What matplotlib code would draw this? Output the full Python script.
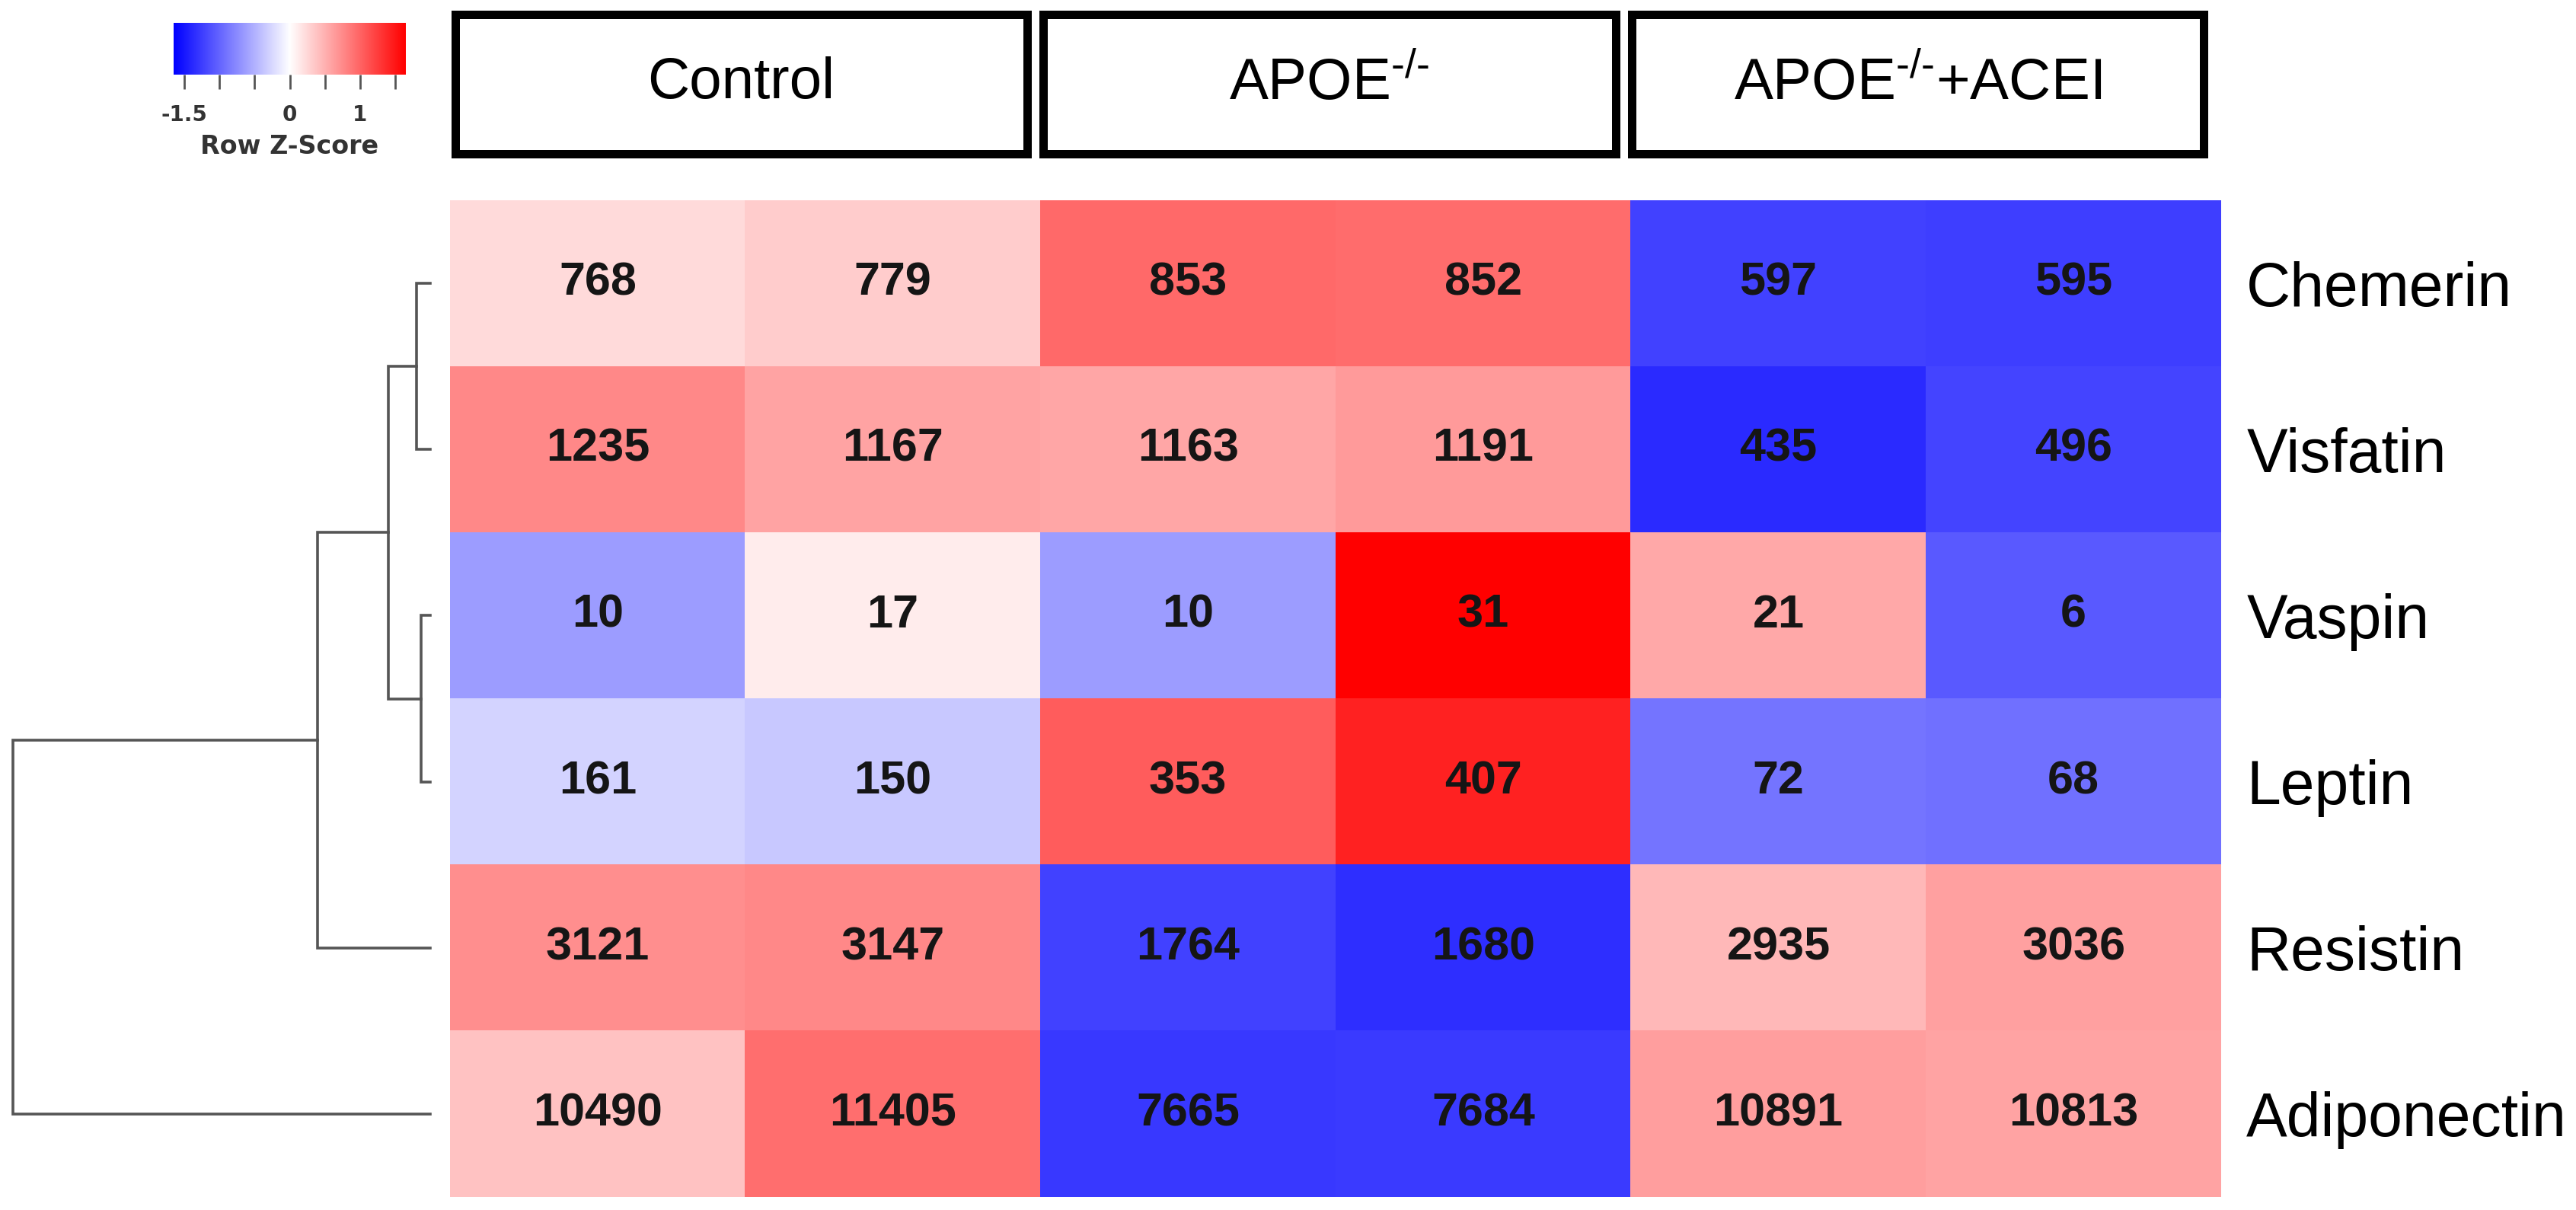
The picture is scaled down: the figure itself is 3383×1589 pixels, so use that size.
import numpy as np
import matplotlib
matplotlib.use('Agg')
import matplotlib.pyplot as plt
from matplotlib.colors import LinearSegmentedColormap
from matplotlib.patches import Rectangle

plt.rcParams['font.family'] = ['Liberation Sans', 'DejaVu Sans']
plt.rcParams['mathtext.default'] = 'regular'

# data
groups = ['Control', 'APOE$^{\u2010/\u2010}$', 'APOE$^{\u2010/\u2010}$+ACEI']
proteins = ['Chemerin', 'Visfatin', 'Vaspin', 'Leptin', 'Resistin', 'Adiponectin']
chemerin = [768, 779, 853, 852, 597, 595]
visfatin = [1235, 1167, 1163, 1191, 435, 496]
vaspin = [10, 17, 10, 31, 21, 6]
leptin = [161, 150, 353, 407, 72, 68]
resistin = [3121, 3147, 1764, 1680, 2935, 3036]
adiponectin = [10490, 11405, 7665, 7684, 10891, 10813]
key_ticks = [-1.5, -1.0, -0.5, 0.0, 0.5, 1.0, 1.5]
key_labels = ['-1.5', '', '', '0', '', '1', '']

vals = np.array([chemerin, visfatin, vaspin, leptin, resistin, adiponectin], dtype=float)
nrow, ncol = vals.shape

# row z-score (like R scale(), sd with n-1)
z = (vals - vals.mean(axis=1, keepdims=True)) / vals.std(axis=1, ddof=1, keepdims=True)
zmax = np.abs(z).max()

cmap = LinearSegmentedColormap.from_list('bluered', ['#0000ff', '#ffffff', '#ff0000'])

W, H = 3383, 1589
fig = plt.figure(figsize=(W / 100, H / 100), dpi=100)


def px_axes(x0, y0, x1, y1):
    return fig.add_axes([x0 / W, 1 - y1 / H, (x1 - x0) / W, (y1 - y0) / H])


# heatmap
ax = px_axes(591, 263, 2917, 1572)
ax.imshow(z, cmap=cmap, vmin=-zmax, vmax=zmax, aspect='auto', interpolation='nearest')
for i in range(nrow):
    for j in range(ncol):
        ax.text(j, i, '%d' % vals[i, j], ha='center', va='center',
                fontsize=44, fontweight='bold', color='#151515')
ax.set_xticks([])
ax.yaxis.tick_right()
ax.set_yticks(range(nrow))
ax.set_yticklabels(proteins, fontsize=58)
ax.tick_params(axis='y', length=0, pad=24)
for s in ax.spines.values():
    s.set_visible(False)

# dendrogram: complete linkage, euclidean on raw values
clusters = [{'members': [i], 'pos': float(i), 'h': 0.0} for i in range(nrow)]
merges = []
while len(clusters) > 1:
    best = None
    for a in range(len(clusters)):
        for b in range(a + 1, len(clusters)):
            d = max(np.linalg.norm(vals[p] - vals[q])
                    for p in clusters[a]['members'] for q in clusters[b]['members'])
            if best is None or d < best[0]:
                best = (d, a, b)
    d, a, b = best
    ca, cb = clusters[a], clusters[b]
    merges.append((ca['pos'], ca['h'], cb['pos'], cb['h'], d))
    new = {'members': ca['members'] + cb['members'], 'pos': (ca['pos'] + cb['pos']) / 2, 'h': d}
    clusters = [c for k, c in enumerate(clusters) if k not in (a, b)] + [new]

root_h = merges[-1][4]
axd = px_axes(17, 263, 565, 1572)
for pa, ha, pb, hb, hn in merges:
    axd.plot([ha, hn, hn, hb], [pa, pa, pb, pb], color='#555555', lw=2.6,
             solid_joinstyle='miter', clip_on=False)
axd.set_xlim(root_h, 0)
axd.set_ylim(nrow - 0.5, -0.5)
axd.axis('off')

# group header boxes
axh = px_axes(0, 0, W, H)
axh.set_xlim(0, W)
axh.set_ylim(H, 0)
axh.axis('off')
lw_px = 11
box_w = (2900 - 592 - 2 * 10) / 3
for g, name in enumerate(groups):
    x0 = 592 + g * (box_w + 10)
    axh.add_patch(Rectangle((x0 + lw_px / 2, 13 + lw_px / 2), box_w - lw_px, 194 - lw_px,
                            fill=False, edgecolor='black', lw=lw_px * 0.72))
    axh.text(x0 + box_w / 2, 110, name, ha='center', va='center', fontsize=55, color='black')

# colour key
axk = px_axes(228, 30, 533, 98)
grad = np.linspace(-zmax, zmax, 256).reshape(1, -1)
axk.imshow(grad, cmap=cmap, vmin=-zmax, vmax=zmax, aspect='auto',
           extent=[-zmax, zmax, 0, 1])
axk.set_yticks([])
axk.set_xticks(key_ticks)
axk.set_xticklabels(key_labels, fontsize=20, fontweight='bold', color='#333333',
                    family='DejaVu Sans')
axk.tick_params(axis='x', length=14, width=2, color='#555555', pad=14)
for s in axk.spines.values():
    s.set_visible(False)
fig.text(380 / W, 1 - 193 / H, 'Row Z-Score', ha='center', va='center', fontsize=24,
         fontweight='bold', color='#333333', family='DejaVu Sans')

fig.savefig('out.png', dpi=100, facecolor='white')
